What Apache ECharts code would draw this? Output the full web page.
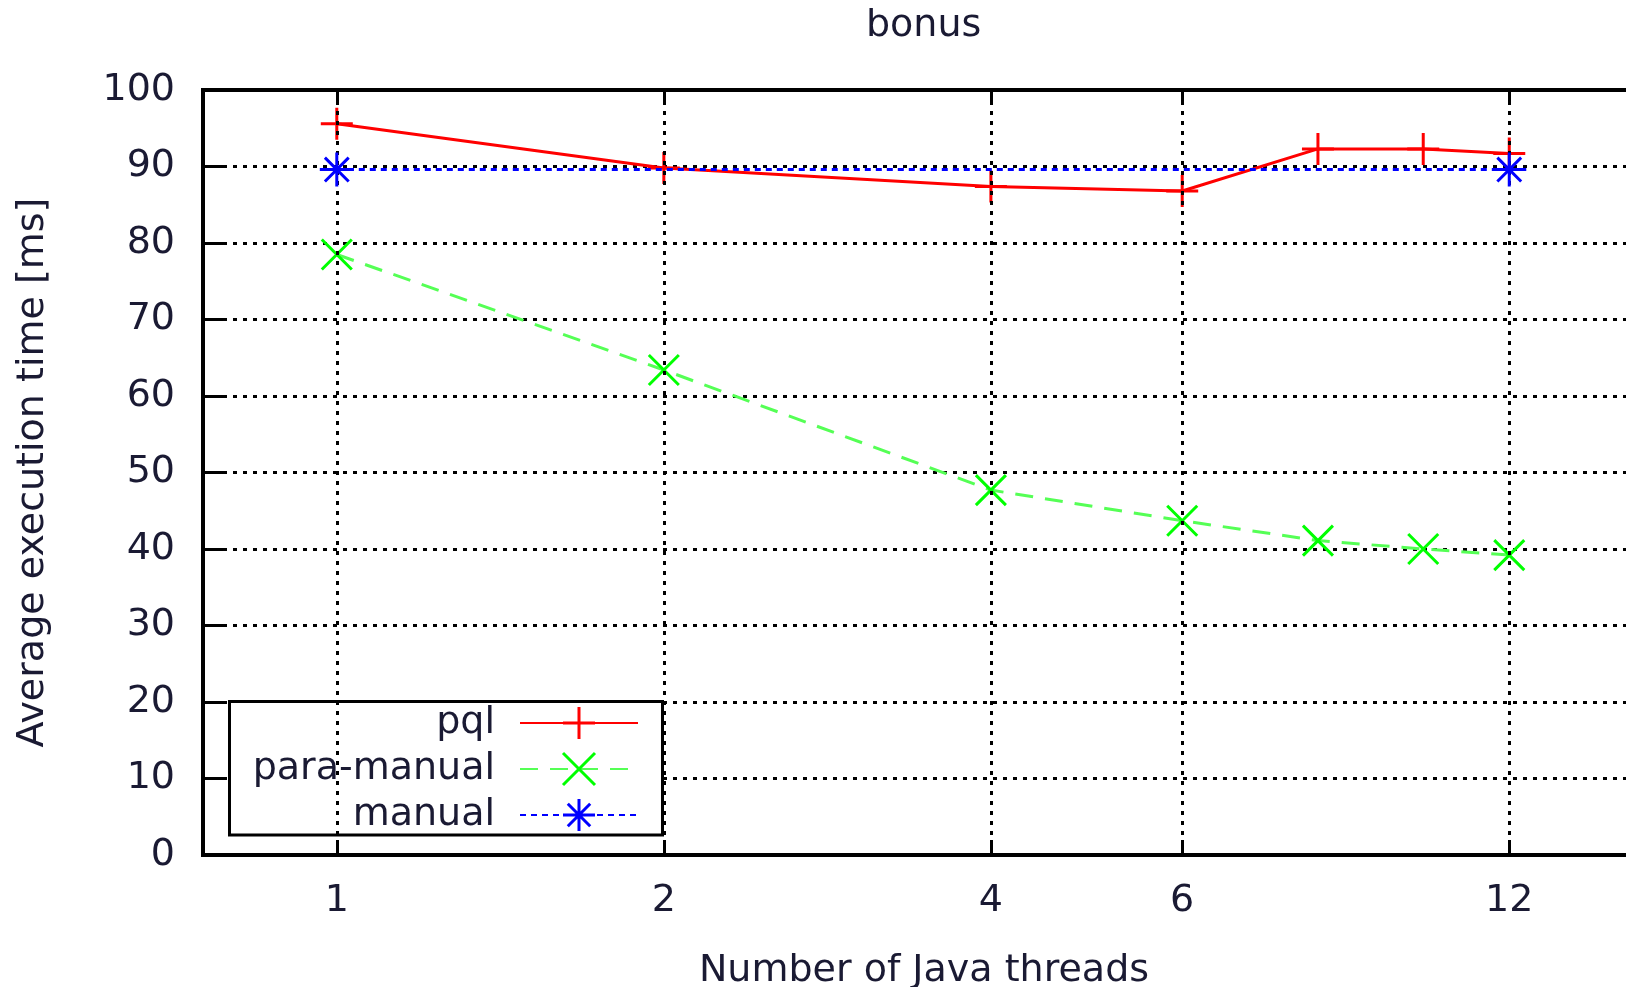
<!DOCTYPE html>
<html><head><meta charset="utf-8">
<script src="https://cdn.jsdelivr.net/npm/echarts@6/dist/echarts.min.js"></script>
<style>html,body{margin:0;padding:0;background:#fff;overflow:hidden}#c{width:1626px;height:987px}</style>
</head><body><div id="c"></div>
<script>
const titleText = 'bonus';
const xName = 'Number of Java threads';
const yName = 'Average execution time [ms]';
const seriesNames = ['pql', 'para-manual', 'manual'];
const threads = [1, 2, 4, 6, 8, 10, 12];
const xTickValues = [1, 2, 4, 6, 12];
const pql = [95.6, 89.8, 87.4, 86.8, 92.3, 92.3, 91.7];
const paraManual = [78.5, 63.4, 47.7, 43.7, 41.1, 40.0, 39.2];
const manualThreads = [1, 12];
const manual = [89.6, 89.6];

const FONT = 'DejaVu Sans';
const TXT = '#1a1a33';
const plusPath = 'path://M0,5L10,5M5,0L5,10';
const crossPath = 'path://M0,0L10,10M10,0L0,10';
const starPath = 'path://M0,5L10,5M5,0L5,10M1.5,1.5L8.5,8.5M8.5,1.5L1.5,8.5';

const chart = echarts.init(document.getElementById('c'), null, {renderer: 'canvas'});
const xCommon = {
  type: 'log', logBase: 2, min: 0.7531, max: 16,
  axisLine: {show: false},
  splitLine: {show: false},
  axisTick: {show: true, inside: true, length: 15, customValues: xTickValues, lineStyle: {color: '#000', width: 3}}
};
chart.setOption({
  animation: false,
  backgroundColor: '#fff',
  title: {text: titleText, left: 866, top: 7, padding: 0,
    textStyle: {fontFamily: FONT, fontSize: 38, fontWeight: 'normal', color: TXT}},
  grid: {left: 203, top: 90, width: 1442, bottom: 132, show: true, borderColor: '#000', borderWidth: 4,
    backgroundColor: 'transparent', containLabel: false, outerBoundsMode: 'none'},
  legend: {
    data: seriesNames, orient: 'vertical', left: 229.5, top: 701.5, align: 'right',
    itemWidth: 118, itemHeight: 40, itemGap: 6, padding: [1.5, 23.5, 0, 10],
    backgroundColor: '#fff', borderColor: '#000', borderWidth: 3, borderRadius: 0,
    selectedMode: false,
    itemStyle: {borderWidth: 3},
    textStyle: {fontFamily: FONT, fontSize: 38, color: TXT, width: 255.5, align: 'right', padding: [0, 20, 0, 0], lineHeight: 40}
  },
  xAxis: [
    Object.assign({}, xCommon, {
      position: 'bottom', name: xName, nameLocation: 'middle', nameGap: 97,
      nameTextStyle: {fontFamily: FONT, fontSize: 38, color: TXT},
      axisLabel: {show: true, customValues: xTickValues, margin: 27, fontFamily: FONT, fontSize: 38, color: TXT}
    }),
    Object.assign({}, xCommon, {position: 'top', axisLabel: {show: false}})
  ],
  yAxis: {
    type: 'value', min: 0, max: 100, interval: 10,
    name: yName, nameLocation: 'middle', nameGap: 151, nameRotate: 90,
    nameTextStyle: {fontFamily: FONT, fontSize: 38, color: TXT},
    axisLine: {show: false},
    axisTick: {show: true, inside: true, length: 20, lineStyle: {color: '#000', width: 3}},
    axisLabel: {margin: 28, fontFamily: FONT, fontSize: 38, color: TXT, padding: [12, 0, 0, 0]},
    splitLine: {show: true, lineStyle: {color: '#000', width: 3, type: [4, 6]}}
  },
  series: [
    {
      type: 'line', data: [], silent: true, z: 1,
      markLine: {
        silent: true, symbol: ['none', 'none'], label: {show: false}, animation: false,
        lineStyle: {color: '#000', width: 3, type: [4, 6]},
        emphasis: {disabled: true},
        data: xTickValues.map(v => ({xAxis: v}))
      }
    },
    {
      name: seriesNames[0], type: 'line', z: 3,
      data: threads.map((t, i) => [t, pql[i]]),
      symbol: plusPath, symbolSize: 32, symbolKeepAspect: true,
      lineStyle: {color: '#ff0000', width: 3},
      itemStyle: {color: '#ff0000', borderColor: '#ff0000', borderWidth: 3}
    },
    {
      name: seriesNames[1], type: 'line', z: 4,
      data: threads.map((t, i) => [t, paraManual[i]]),
      symbol: crossPath, symbolSize: 30, symbolKeepAspect: true,
      lineStyle: {color: '#55ff55', width: 3, type: [18, 12]},
      itemStyle: {color: '#00ff00', borderColor: '#00ff00', borderWidth: 3}
    },
    {
      name: seriesNames[2], type: 'line', z: 5,
      data: manualThreads.map((t, i) => [t, manual[i]]),
      symbol: starPath, symbolSize: 34, symbolKeepAspect: true,
      lineStyle: {color: '#0000ff', width: 3, type: [6, 5]},
      itemStyle: {color: '#0000ff', borderColor: '#0000ff', borderWidth: 3}
    }
  ]
});
</script></body></html>
